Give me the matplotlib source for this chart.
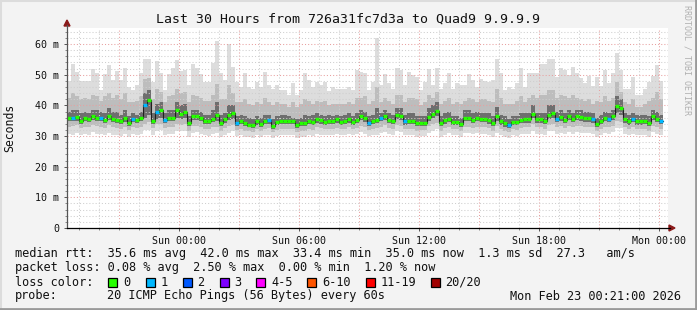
import numpy as np
import matplotlib
matplotlib.use("Agg")
import matplotlib.pyplot as plt
from matplotlib.patches import Rectangle, Polygon
from matplotlib.lines import Line2D

# ---- data (ms), one value per 12 min column, starting Sat 18:24 ----
start_h = -5.6      # hours relative to Sun 00:00
step_h = 0.2

med = [36.0, 36.0, 36.2, 35.0, 36.0, 35.5, 36.5, 36.0, 36.0, 35.3, 36.6, 35.7, 35.3, 35.0, 35.9, 34.4, 35.6, 35.3, 36.0, 40.0,
       41.7, 35.0, 37.7, 38.5, 35.3, 36.0, 36.0, 38.5, 37.2, 37.9, 34.2, 36.5, 36.5, 36.0, 35.0, 35.0, 35.6,
       36.9, 34.2, 35.5, 36.9, 37.6, 34.4, 35.0, 34.2, 33.7, 33.5, 34.8, 34.0, 35.0, 35.1, 33.3, 34.6, 35.0, 34.9, 35.0, 35.0,
       33.7, 34.2, 34.2, 35.0, 34.6, 35.6, 35.1, 34.7, 35.0, 35.0, 35.4, 34.7, 35.0, 35.5, 34.7, 35.2, 36.5,
       35.8, 34.4, 35.0, 35.3, 35.9, 36.5, 35.3, 34.9, 36.9, 36.5, 34.8, 35.0, 35.0, 34.2, 34.3, 34.3, 36.3, 37.2, 38.3, 34.2,
       35.1, 35.7, 34.6, 34.6, 34.0, 36.0, 36.0, 35.3, 35.9, 35.6, 35.6, 35.1, 34.2, 36.4, 34.8, 34.1, 33.5,
       34.6, 34.5, 35.3, 35.5, 35.5, 37.2, 35.5, 35.5, 35.0, 37.0, 37.4, 35.7, 36.1, 35.3, 36.4, 35.6, 36.4, 36.2, 35.8, 35.8,
       35.5, 34.0, 35.0, 36.0, 35.6, 36.5, 39.7, 39.2, 35.5, 34.8, 35.7, 34.8, 34.8, 35.0, 34.2, 36.4, 35.7, 34.9]

top = [48.0, 53.6, 51.0, 48.0, 48.0, 48.0, 51.9, 50.5, 45.0, 50.4, 53.2, 48.3, 51.2, 48.3, 52.1, 45.9, 44.9, 46.7, 50.5, 55.1,
       55.1, 47.7, 54.5, 50.6, 45.0, 50.3, 52.1, 54.8, 51.2, 51.6, 46.7, 53.6, 52.1, 50.3, 47.7, 47.7, 53.7, 61.1, 50.5, 48.3,
       59.9, 52.4, 47.7, 46.0, 50.7, 45.9, 45.5, 47.5, 45.9, 51.0, 46.7, 45.4, 46.7, 45.0, 45.0, 43.4, 47.3, 43.4, 45.0, 50.6,
       48.3, 45.9, 47.7, 46.7, 47.7, 44.6, 45.9, 45.5, 45.5, 45.5, 46.0, 45.0, 51.5, 51.0, 50.5, 45.0, 47.7, 61.9, 46.7, 50.4,
       47.3, 45.5, 52.1, 51.5, 46.7, 51.0, 50.0, 49.3, 45.0, 47.7, 51.8, 46.7, 52.1, 45.5, 47.3, 50.7, 45.5, 47.3, 46.7, 46.7,
       50.3, 48.3, 45.9, 48.5, 48.1, 47.7, 48.3, 55.0, 50.6, 45.0, 45.9, 45.5, 47.3, 52.1, 45.9, 50.5, 50.5, 50.5, 53.6, 53.4,
       55.0, 55.0, 49.3, 52.1, 51.5, 50.0, 52.6, 50.7, 49.0, 47.3, 49.5, 46.2, 49.3, 46.2, 51.5, 47.3, 50.5, 57.2, 51.5, 45.5,
       45.5, 49.3, 43.4, 43.4, 45.5, 47.7, 49.5, 53.2, 48.0]

hi2 = [42.5, 44.0, 43.0, 42.0, 42.5, 42.0, 43.5, 43.0, 41.5, 43.0, 44.0, 42.5, 43.5, 42.0, 44.0, 41.0, 41.0, 41.5, 43.0, 48.5,
       49.0, 42.0, 45.5, 44.5, 41.0, 43.0, 43.5, 45.5, 44.0, 44.5, 41.0, 43.5, 43.0, 42.5, 41.5, 41.5, 43.5, 47.0, 42.0, 42.0,
       46.5, 44.0, 41.0, 41.0, 42.0, 40.5, 40.0, 41.0, 40.5, 42.5, 41.0, 40.0, 41.0, 40.5, 40.5, 39.5, 41.0, 39.5, 40.5, 42.0,
       41.5, 40.5, 41.5, 41.0, 41.5, 40.0, 40.5, 40.5, 40.5, 40.5, 41.0, 40.5, 42.5, 42.5, 43.0, 40.5, 41.5, 46.0, 41.0, 42.5,
       41.5, 40.5, 43.5, 43.5, 41.0, 42.5, 42.5, 42.0, 40.0, 41.0, 43.5, 42.5, 44.5, 40.5, 41.5, 42.5, 40.5, 41.0, 40.5, 41.5,
       42.5, 42.0, 41.0, 42.0, 42.0, 41.5, 41.0, 45.5, 42.5, 40.5, 40.5, 40.5, 41.5, 43.0, 41.0, 42.5, 43.5, 42.5, 43.5, 43.5,
       45.0, 45.0, 42.5, 43.5, 43.0, 42.5, 43.5, 42.5, 42.0, 41.5, 42.0, 40.5, 41.5, 41.0, 43.0, 41.5, 42.5, 47.5, 44.5, 41.0,
       40.5, 42.0, 39.5, 39.5, 40.5, 41.5, 42.5, 44.5, 42.0]

hi1 = [38.0, 38.5, 38.5, 37.5, 38.0, 37.5, 38.5, 38.5, 38.0, 37.5, 39.0, 38.0, 38.0, 37.0, 38.5, 36.5, 37.5, 37.0, 38.0, 44.0,
       45.0, 37.5, 40.5, 41.0, 37.5, 38.5, 38.5, 41.0, 40.0, 40.5, 36.5, 38.5, 38.5, 38.0, 37.0, 37.0, 38.5, 41.0, 37.0, 37.5,
       40.0, 40.0, 36.5, 37.0, 36.5, 36.0, 35.5, 36.5, 36.0, 37.0, 37.0, 35.5, 36.5, 37.0, 37.0, 36.5, 36.0, 35.5, 36.0, 37.0,
       36.5, 37.0, 37.5, 37.0, 36.5, 37.0, 36.5, 37.0, 36.5, 37.0, 37.5, 36.5, 37.5, 38.5, 38.0, 36.5, 37.0, 39.0, 37.5, 38.5,
       37.5, 37.0, 39.0, 39.0, 37.0, 37.5, 37.5, 36.5, 36.5, 36.5, 39.0, 40.0, 41.0, 36.5, 37.5, 38.0, 36.5, 36.5, 36.0, 38.5,
       38.5, 37.5, 38.0, 37.5, 37.5, 37.5, 36.5, 39.5, 37.0, 36.5, 35.5, 36.5, 36.5, 37.5, 37.5, 37.5, 40.0, 37.5, 37.5, 37.5,
       40.0, 40.0, 38.0, 38.5, 37.5, 38.5, 37.5, 38.5, 38.5, 38.0, 38.0, 37.5, 36.0, 37.0, 38.0, 37.5, 38.5, 43.0, 42.0, 37.5,
       37.0, 37.5, 37.0, 37.0, 37.0, 36.5, 38.5, 38.0, 37.0]

lo1 = [34.8, 34.8, 35.0, 34.0, 34.8, 34.5, 35.2, 34.8, 34.8, 34.2, 35.3, 34.5, 34.2, 34.0, 34.7, 33.4, 34.5, 34.2, 34.8, 36.0,
       37.0, 34.0, 35.5, 36.0, 34.2, 34.8, 34.8, 36.0, 35.5, 35.8, 33.2, 35.2, 35.2, 34.8, 34.0, 34.0, 34.5, 35.0, 33.2, 34.3,
       35.3, 35.5, 33.4, 33.9, 33.2, 32.8, 32.6, 33.7, 33.0, 33.9, 34.0, 32.4, 33.5, 33.9, 33.8, 33.9, 33.9, 32.7, 33.2, 33.2,
       33.9, 33.5, 34.4, 34.0, 33.7, 33.9, 33.9, 34.3, 33.7, 33.9, 34.4, 33.6, 34.1, 35.2, 34.6, 33.4, 33.9, 34.1, 34.8, 35.3,
       34.2, 33.8, 35.5, 35.2, 33.7, 33.9, 33.9, 33.2, 33.3, 33.3, 35.0, 35.8, 36.5, 33.2, 34.0, 34.6, 33.6, 33.6, 33.0, 34.8,
       34.8, 34.2, 34.8, 34.5, 34.5, 34.0, 33.2, 35.0, 33.7, 33.1, 32.5, 33.6, 33.5, 34.2, 34.4, 34.4, 35.8, 34.4, 34.4, 33.9,
       35.6, 36.0, 34.6, 35.0, 34.2, 35.2, 34.5, 35.2, 35.0, 34.7, 34.7, 34.4, 33.0, 33.9, 34.8, 34.5, 35.2, 37.5, 37.0, 34.4,
       33.7, 34.6, 33.7, 33.7, 33.9, 33.2, 35.2, 34.6, 33.8]

lo2 = [33.0, 33.2, 33.5, 32.5, 33.0, 32.8, 33.5, 33.2, 33.0, 32.5, 33.5, 32.8, 32.5, 32.3, 33.0, 32.0, 32.8, 32.5, 33.0, 33.8,
       34.5, 32.5, 33.8, 34.0, 32.6, 33.0, 33.0, 34.0, 33.7, 34.0, 31.8, 33.4, 33.4, 33.0, 32.4, 32.4, 32.8, 33.0, 31.8, 32.6,
       33.2, 33.5, 32.0, 32.4, 31.8, 31.5, 31.3, 32.2, 31.7, 32.4, 32.5, 31.2, 32.1, 32.4, 32.3, 32.4, 32.4, 31.4, 31.8, 31.8,
       32.4, 32.1, 32.8, 32.5, 32.2, 32.4, 32.4, 32.7, 32.2, 32.4, 32.8, 32.2, 32.6, 33.4, 32.9, 32.0, 32.4, 32.5, 33.0, 33.5,
       32.6, 32.3, 33.6, 33.4, 32.2, 32.4, 32.4, 31.8, 31.9, 31.9, 33.2, 33.8, 34.4, 31.8, 32.5, 33.0, 32.2, 32.2, 31.7, 33.1,
       33.1, 32.6, 33.1, 32.8, 32.8, 32.5, 31.8, 33.2, 32.2, 31.7, 31.3, 32.2, 32.1, 32.6, 32.8, 32.8, 33.8, 32.8, 32.8, 32.4,
       33.6, 33.9, 32.9, 33.2, 32.6, 33.3, 32.8, 33.3, 33.2, 33.0, 33.0, 32.8, 31.6, 32.4, 33.1, 32.9, 33.4, 35.0, 34.6, 32.8,
       32.2, 32.9, 32.2, 32.2, 32.4, 31.8, 33.4, 32.9, 32.3]

bottom = [30.8, 30.5, 31.0, 30.3, 30.8, 30.5, 31.2, 30.8, 30.6, 30.2, 31.0, 30.4, 30.2, 30.0, 30.8, 29.8, 30.6, 30.2, 30.8, 32.0,
          32.0, 30.2, 31.5, 32.0, 30.4, 30.8, 30.6, 31.8, 31.5, 31.8, 29.6, 31.0, 31.2, 30.8, 30.2, 30.0, 30.6, 31.0, 29.8, 30.5,
          31.0, 31.5, 30.0, 30.4, 29.8, 29.6, 29.4, 30.2, 29.8, 30.4, 30.5, 29.3, 30.0, 30.4, 30.2, 30.4, 30.3, 29.5, 29.8, 29.8,
          30.4, 30.0, 30.8, 30.5, 30.2, 30.4, 30.3, 30.6, 30.2, 30.4, 30.8, 30.2, 30.6, 31.2, 30.8, 30.0, 30.4, 30.5, 31.0, 31.4,
          30.6, 30.2, 31.5, 31.2, 30.2, 30.4, 30.3, 29.8, 29.9, 29.9, 31.0, 31.6, 32.2, 29.8, 30.5, 31.0, 30.2, 30.2, 29.7, 31.0,
          31.0, 30.6, 31.0, 30.8, 30.8, 30.5, 29.8, 31.0, 30.2, 29.7, 29.3, 30.2, 30.0, 30.6, 30.8, 30.8, 31.6, 30.8, 30.8, 30.4,
          31.5, 31.8, 30.8, 31.0, 30.6, 31.2, 30.8, 31.2, 31.0, 31.0, 31.0, 30.8, 29.6, 30.4, 31.0, 30.8, 31.2, 32.5, 32.5, 30.8,
          30.2, 30.8, 30.2, 30.2, 30.4, 29.8, 31.2, 30.8, 30.3]

# columns with one lost ping (all others had no loss)
loss_one = [1, 8, 16, 19, 22, 24, 42, 50, 75, 78, 84, 110, 122, 131, 135, 141, 148]

loss_labels = ["0", "1", "2", "3", "4-5", "6-10", "11-19", "20/20"]
loss_colors = ["#26ff00", "#00b8ff", "#0059ff", "#7e00ff", "#ff00ff", "#ff5500", "#ff0000", "#a00000"]

x_ticks = [0, 6, 12, 18, 24]
x_labels = ["Sun 00:00", "Sun 06:00", "Sun 12:00", "Sun 18:00", "Mon 00:00"]

W, H = 697, 310
MONO = "DejaVu Sans Mono"

fig = plt.figure(figsize=(W / 100, H / 100), dpi=100)
fig.patch.set_facecolor("#f3f3f3")


def fp(x, y):
    return x / W, 1 - y / H


# plot area in pixels
L, R, T, B = 67, 668, 28, 228
ax = fig.add_axes([L / W, 1 - B / H, (R - L) / W, (B - T) / H])
ax.set_facecolor("white")
ax.set_xlim(start_h, start_h + (R - L) / 20.0)
ax.set_ylim(0, (B - T) / 3.065)
for s in ax.spines.values():
    s.set_visible(False)

n = len(med)
edges = start_h + step_h * np.arange(n + 1)


def pad(v):
    return np.append(v, v[-1])


# smoke
ax.fill_between(edges, pad(bottom), pad(top), step="post", color="#dddddd", lw=0, zorder=1)
ax.fill_between(edges, pad(lo2), pad(hi2), step="post", color="#bdbdbd", lw=0, zorder=1)
ax.fill_between(edges, pad(lo1), pad(hi1), step="post", color="#6e6e6e", lw=0, zorder=1)

# grid (drawn over the smoke, like rrdtool)
grid_gray = "#cfcfcf"
grid_red = "#e8a0a0"
dots = (0, (1, 2))
for h in range(-5, 25):
    c = grid_red if h % 3 == 0 else grid_gray
    ax.axvline(h, color=c, lw=0.75, ls=dots, zorder=2)
for v in range(2, 66, 2):
    c = grid_red if v % 10 == 0 else grid_gray
    ax.axhline(v, color=c, lw=0.75, ls=dots, zorder=2)

# median: thin dark step line + colored segments by loss
ax.step(edges, pad(med), where="post", color="#202020", lw=0.8, zorder=3)
seg_colors = [loss_colors[1] if i in loss_one else loss_colors[0] for i in range(n)]
ax.hlines(med, edges[:-1], edges[1:], colors=seg_colors, lw=2.4, zorder=4)

# ticks
ax.set_xticks(x_ticks)
ax.set_xticklabels(x_labels, fontfamily=MONO, fontsize=7.2)
ax.set_yticks(range(0, 61, 10))
ax.set_yticklabels(["0"] + ["%d m" % v for v in range(10, 61, 10)], fontfamily=MONO, fontsize=7.2)
ax.set_xticks(range(-5, 25), minor=True)
ax.set_yticks(range(2, 66, 2), minor=True)
ax.tick_params(axis="both", which="major", length=2.5, width=0.7, color="#555555", pad=3, labelcolor="#111111")
ax.tick_params(axis="both", which="minor", length=1.5, width=0.7, color="#888888")

# axis lines with arrows
fig.add_artist(Line2D([L / W, L / W], [1 - B / H, 1 - 25 / H], color="#555555", lw=0.9))
fig.add_artist(Line2D([L / W, 670 / W], [1 - B / H, 1 - B / H], color="black", lw=0.9))
fig.add_artist(Polygon([fp(64, 26), fp(70, 26), fp(67, 20)], closed=True, color="#8b1a1a"))
fig.add_artist(Polygon([fp(669, 225), fp(669, 231), fp(675, 228)], closed=True, color="#8b1a1a"))

# title and axis label
fig.text(*fp(348, 19), "Last 30 Hours from 726a31fc7d3a to Quad9 9.9.9.9",
         ha="center", va="center", fontfamily=MONO, fontsize=9.5, color="#111111")
fig.text(*fp(10, 128), "Seconds", rotation=90, ha="center", va="center",
         fontfamily=MONO, fontsize=8.3, color="#111111")
fig.text(*fp(687, 5), "RRDTOOL / TOBI OETIKER", rotation=270, ha="center", va="top",
         fontfamily=MONO, fontsize=6, color="#b0b0b0")

# legend
leg = dict(ha="left", va="center", fontfamily=MONO, fontsize=8.55, color="#111111")
fig.text(*fp(15, 254), "median rtt:  35.6 ms avg  42.0 ms max  33.4 ms min  35.0 ms now  1.3 ms sd  27.3   am/s", **leg)
fig.text(*fp(15, 268), "packet loss: 0.08 % avg  2.50 % max  0.00 % min  1.20 % now", **leg)
fig.text(*fp(15, 282), "loss color:", **leg)
box_x = [108, 145.5, 182.5, 219.5, 256, 307, 365.5, 430.5]
for bx, lab, col in zip(box_x, loss_labels, loss_colors):
    x0, y0 = fp(bx, 286.5)
    fig.add_artist(Rectangle((x0, y0), 9 / W, 9 / H, facecolor=col, edgecolor="black", lw=0.9))
    fig.text(*fp(bx + 15, 282), lab, **leg)
fig.text(*fp(15, 296), "probe:", **leg)
fig.text(*fp(107, 296), "20 ICMP Echo Pings (56 Bytes) every 60s", **leg)
fig.text(*fp(681, 296), "Mon Feb 23 00:21:00 2026", **dict(leg, ha="right"))

# image border
fig.add_artist(Line2D([0, 1], [1 - 0.5 / H, 1 - 0.5 / H], color="#dcdcdc", lw=1.5))
fig.add_artist(Line2D([0.5 / W, 0.5 / W], [0, 1], color="#dcdcdc", lw=1.5))
fig.add_artist(Line2D([0, 1], [1.0 / H, 1.0 / H], color="#9a9a9a", lw=2))
fig.add_artist(Line2D([1 - 1.0 / W, 1 - 1.0 / W], [0, 1], color="#9a9a9a", lw=2))

fig.savefig("out.png", dpi=100, facecolor=fig.get_facecolor())
